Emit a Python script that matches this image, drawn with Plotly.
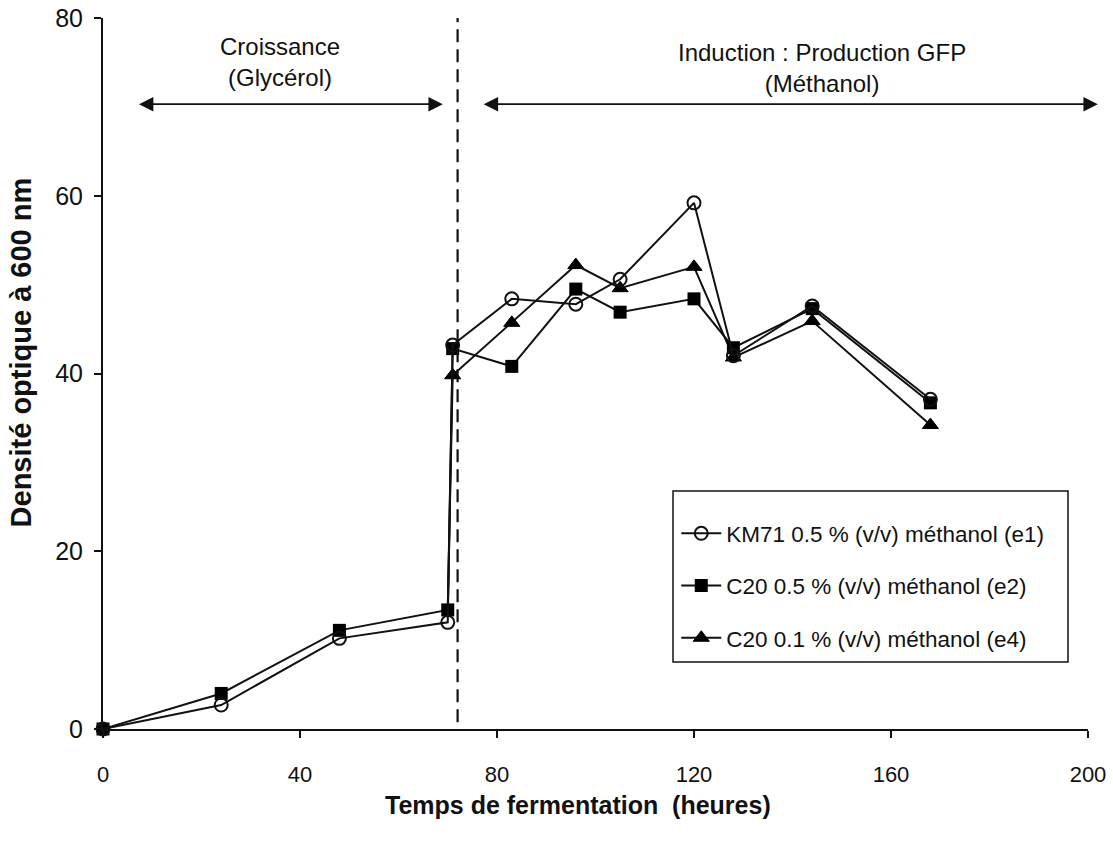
import plotly.graph_objects as go

# ---- data ----
hours_km71 = [0, 24, 48, 70, 71, 83, 96, 105, 120, 128, 144, 168]
od_km71 = [0, 2.7, 10.2, 12.0, 43.2, 48.4, 47.8, 50.6, 59.2, 42.0, 47.6, 37.1]

hours_c20_05 = [0, 24, 48, 70, 71, 83, 96, 105, 120, 128, 144, 168]
od_c20_05 = [0, 4.0, 11.1, 13.4, 42.8, 40.8, 49.5, 46.9, 48.4, 42.9, 47.3, 36.7]

hours_c20_01 = [70, 71, 83, 96, 105, 120, 128, 144, 168]
od_c20_01 = [13.4, 39.8, 45.7, 52.2, 49.6, 52.0, 41.8, 45.9, 34.2]

names = ["KM71 0.5 % (v/v) méthanol (e1)",
         "C20 0.5 % (v/v) méthanol (e2)",
         "C20 0.1 % (v/v) méthanol (e4)"]

x_ticks = [0, 40, 80, 120, 160, 200]
y_ticks = [0, 20, 40, 60, 80]
induction_start = 72

FONT = "Liberation Sans, Arial, sans-serif"
INK = "#111111"

fig = go.Figure()

# first segment of the triangle series (its first point lies under a square)
fig.add_trace(go.Scatter(
    x=hours_c20_01[:2], y=od_c20_01[:2], mode="lines", showlegend=False,
    line=dict(color=INK, width=2), hoverinfo="skip", cliponaxis=False,
))
fig.add_trace(go.Scatter(
    x=hours_c20_01[1:], y=od_c20_01[1:], mode="lines+markers", name=names[2],
    legendgroup="c", legendrank=3,
    line=dict(color=INK, width=2),
    marker=dict(symbol="triangle-up", size=14, color="#000000",
                line=dict(color="#000000", width=1)),
    cliponaxis=False,
))
fig.add_trace(go.Scatter(
    x=hours_c20_05, y=od_c20_05, mode="lines+markers", name=names[1],
    legendgroup="b", legendrank=2,
    line=dict(color=INK, width=2),
    marker=dict(symbol="square", size=13, color="#000000"),
    cliponaxis=False,
))
fig.add_trace(go.Scatter(
    x=hours_km71, y=od_km71, mode="lines+markers", name=names[0],
    legendgroup="a", legendrank=1,
    line=dict(color=INK, width=2),
    marker=dict(symbol="circle-open", size=13, color=INK, line=dict(width=2)),
    cliponaxis=False,
))

# vertical dashed line marking start of induction
fig.add_shape(type="line", xref="x", yref="y",
              x0=induction_start, x1=induction_start, y0=-1.5, y1=80,
              line=dict(color=INK, width=2.2, dash="13px,7px"))

# legend frame
fig.add_shape(type="rect", xref="paper", yref="paper",
              x0=0.5787, x1=0.9797, y0=0.0942, y1=0.3347,
              line=dict(color=INK, width=1.5), fillcolor="rgba(0,0,0,0)")

# double arrows
for x0, x1 in [(7, 69), (77, 202)]:
    fig.add_annotation(x=x1, y=70.3, ax=x0, ay=70.3, xref="x", yref="y",
                       axref="x", ayref="y", text="", showarrow=True,
                       arrowhead=2, startarrowhead=2, arrowside="end+start",
                       arrowsize=1.6, startarrowsize=1.6, arrowwidth=1.8,
                       arrowcolor=INK)

fig.add_annotation(x=36, y=75, xref="x", yref="y", text="Croissance<br>(Glycérol)",
                   showarrow=False, font=dict(family=FONT, size=24, color=INK),
                   yanchor="middle")
fig.add_annotation(x=146, y=74.4, xref="x", yref="y",
                   text="Induction : Production GFP<br>(Méthanol)",
                   showarrow=False, font=dict(family=FONT, size=24, color=INK),
                   yanchor="middle")

# axis titles
fig.add_annotation(x=0.482, y=-0.107, xref="paper", yref="paper",
                   text="<b>Temps de fermentation  (heures)</b>", showarrow=False,
                   font=dict(family=FONT, size=25, color=INK),
                   xanchor="center", yanchor="middle")
fig.add_annotation(x=-0.083, y=0.53, xref="paper", yref="paper",
                   text="<b>Densité optique à 600 nm</b>", showarrow=False,
                   textangle=-90, font=dict(family=FONT, size=29, color=INK),
                   xanchor="center", yanchor="middle")

fig.update_layout(
    width=1113, height=852,
    margin=dict(l=103, r=25, t=18, b=123),
    paper_bgcolor="white", plot_bgcolor="white",
    font=dict(family=FONT, color=INK),
    showlegend=True,
    legend=dict(x=0.582, y=0.305, xanchor="left", yanchor="top",
                borderwidth=0, bgcolor="rgba(0,0,0,0)",
                font=dict(family=FONT, size=22.5, color=INK),
                tracegroupgap=20, itemwidth=40),
    xaxis=dict(range=[0, 200], tickvals=x_ticks, showgrid=False, zeroline=False,
               automargin=False,
               showline=True, linecolor=INK, linewidth=2,
               ticks="outside", ticklen=7, tickwidth=1.5, tickcolor=INK,
               ticklabelstandoff=18, ticklabeloverflow="allow",
               tickfont=dict(family=FONT, size=22, color=INK)),
    yaxis=dict(range=[0, 80], tickvals=y_ticks, showgrid=False, zeroline=False,
               automargin=False,
               showline=True, linecolor=INK, linewidth=2,
               ticks="outside", ticklen=7, tickwidth=1.5, tickcolor=INK,
               ticklabelstandoff=6, ticklabeloverflow="allow",
               tickfont=dict(family=FONT, size=25, color=INK)),
)

# remove the browser's default 8px body margin so the figure sits at (0, 0)
fig.write_html("out.html", config={"displayModeBar": False},
               post_script="document.body.style.margin='0';")
